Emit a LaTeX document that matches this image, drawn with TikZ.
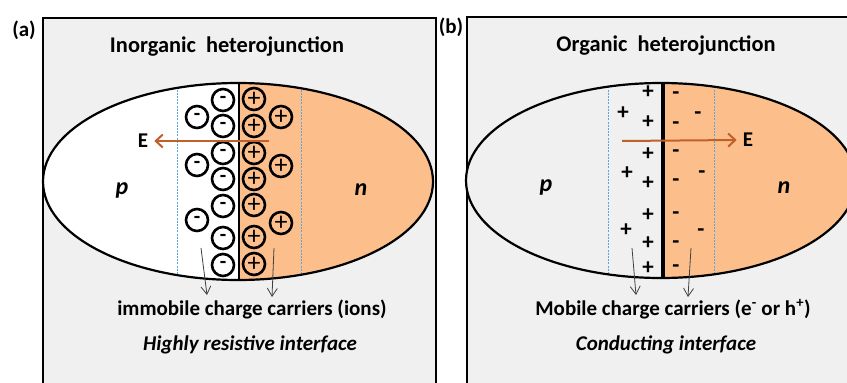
\documentclass[tikz,border=0pt]{standalone}
\usepackage{fontspec}
\setmainfont{Carlito}
\usetikzlibrary{arrows.meta}
\definecolor{panelbg}{HTML}{F0F0F0}
\definecolor{norange}{HTML}{FCBF8C}
\definecolor{efield}{HTML}{C0602A}
\definecolor{dashblue}{HTML}{5AA6E0}
\definecolor{ptrgray}{HTML}{404040}
\tikzset{
  panel/.style={draw=black, line width=2pt, fill=panelbg},
  ellipseline/.style={draw=black, line width=2.2pt},
  sepline/.style={draw=dashblue, line width=0.8pt, dash pattern=on 2pt off 1.2pt},
  ion/.style={circle, draw=black, line width=2.6pt, minimum size=22pt, inner sep=-6pt,
    font=\bfseries\fontsize{21}{21}\selectfont},
  pion/.style={ion, font=\fontsize{26}{26}\selectfont},
  sign/.style={inner sep=0pt, font=\bfseries\fontsize{23}{23}\selectfont},
  efieldarrow/.style={draw=efield, line width=2pt, -{Straight Barb[length=7pt,width=13pt]}},
  pointer/.style={draw=ptrgray, line width=0.8pt, -{Straight Barb[length=8pt,width=10pt]}},
  txt/.style={inner sep=0pt, font=\bfseries\fontsize{21}{21}\selectfont},
  ttl/.style={inner sep=0pt, font=\bfseries\fontsize{22.4}{22.4}\selectfont},
  itxt/.style={inner sep=0pt, font=\bfseries\itshape\fontsize{21}{21}\selectfont},
  pn/.style={inner sep=0pt, font=\bfseries\itshape\fontsize{24}{24}\selectfont},
}
\begin{document}
\begin{tikzpicture}[x=1pt,y=-1pt]
\useasboundingbox (0,0) rectangle (847,383);
\clip (0,0) rectangle (847,383);
\fill[white] (0,0) rectangle (847,383);

% ---------------- panel (a) ----------------
\draw[panel] (43,18) rectangle (436,395);
\node[txt] (la) at (24,30) {(a)};
\node[ttl] (ta) at (227,47) {Inorganic\ \ heterojunction};
\begin{scope}
  \clip (238,181.5) ellipse [x radius=195, y radius=98.5];
  \fill[white] (0,0) rectangle (239,400);
  \fill[norange] (239,0) rectangle (440,400);
  \draw[sepline] (177,0) -- (177,400);
  \draw[sepline] (301,0) -- (301,400);
  \draw[black, line width=2pt] (239,0) -- (239,400);
\end{scope}
\draw[ellipseline] (238,181.5) ellipse [x radius=195, y radius=98.5];
% ions
\foreach \y [count=\i] in {100,126,153,179,206,238,265}
  \node[ion] (mi\i) at (223,\y) {-};
\foreach \y [count=\i] in {117,165,220}
  \node[ion] (mo\i) at (197,\y) {-};
\foreach \y [count=\i] in {99,126,153,179,205,237,264}
  \node[pion] (pi\i) at (254,\y) {+};
\foreach \y [count=\i] in {117,166,223}
  \node[pion] (po\i) at (281,\y) {+};
\node[txt] (Ea) at (143,141) {E};
\coordinate (ea0) at (269,141);
\draw[efieldarrow] (ea0) -- ([xshift=6pt]Ea.east);
\node[pn] (pa) at (122,190) {p};
\node[pn] (na) at (361,190) {n};
\coordinate (aa1) at (201,248); \coordinate (aa2) at (207,295);
\coordinate (ab1) at (274,248); \coordinate (ab2) at (272,297);
\draw[pointer] (aa1) -- (aa2);
\draw[pointer] (ab1) -- (ab2);
\node[txt] (ca) at (252,309) {immobile charge carriers (ions)};
\node[itxt] (ia) at (250,345) {Highly resistive interface};

% ---------------- panel (b) ----------------
\draw[panel] (467,17) rectangle (870,395);
\node[txt] (lb) at (451,27) {(b)};
\node[ttl] (tb) at (666,46) {Organic\ \ heterojunction};
\begin{scope}
  \clip (661,180.5) ellipse [x radius=195, y radius=97.5];
  \fill[panelbg] (400,0) rectangle (663,400);
  \fill[norange] (663,0) rectangle (870,400);
  \draw[sepline] (608,0) -- (608,400);
  \draw[sepline] (714,0) -- (714,400);
  \draw[black, line width=3.2pt] (663,0) -- (663,400);
\end{scope}
\draw[ellipseline] (661,180.5) ellipse [x radius=195, y radius=97.5];
\foreach \y [count=\i] in {92,122,154,183,215,243,268}
  \node[sign] (bpi\i) at (648,\y) {+};
\foreach \p [count=\i] in {(623,113),(627,173),(626,230)}
  \node[sign] (bpo\i) at \p {+};
\foreach \y [count=\i] in {96,126,154,183,216,245,269}
  \node[sign] (bmi\i) at (676,\y) {-};
\foreach \p [count=\i] in {(698,116),(702,175),(701,233)}
  \node[sign] (bmo\i) at \p {-};
\node[txt] (Eb) at (748,140) {E};
\coordinate (eb0) at (622,141);
\draw[efieldarrow] (eb0) -- ([xshift=-6pt]Eb.west);
\node[pn] (pb) at (546,187) {p};
\node[pn] (nb) at (784,188) {n};
\coordinate (ba1) at (632,248); \coordinate (ba2) at (636,295);
\coordinate (bb1) at (691,248); \coordinate (bb2) at (688,297);
\draw[pointer] (ba1) -- (ba2);
\draw[pointer] (bb1) -- (bb2);
\node[txt] (cb) at (673,309) {Mobile charge carriers (e\textsuperscript{-} or h\textsuperscript{+})};
\node[itxt] (ib) at (666,345) {Conducting interface};
\end{tikzpicture}
\end{document}
